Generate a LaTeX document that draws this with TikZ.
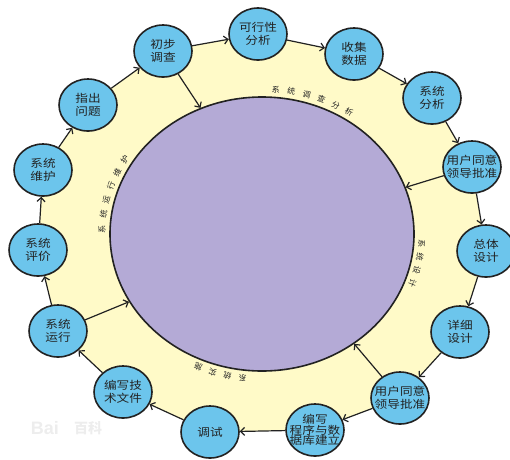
\documentclass[tikz,border=0pt]{standalone}
\usepackage{fontspec}
\newfontfamily\cjk[FakeStretch=1.15]{Noto Sans CJK SC}
\newfontfamily\cjkplain{Noto Sans CJK SC}
\newfontfamily\wmfont{Liberation Sans}
\usetikzlibrary{shapes.geometric,arrows.meta}
\definecolor{ringyellow}{RGB}{255,250,200}
\definecolor{corepurple}{RGB}{180,170,214}
\definecolor{bubblue}{RGB}{108,197,236}
\definecolor{inkdark}{RGB}{34,34,34}
\newcommand\ringtext[4]{%
  \foreach \ch [count=\i] in {#4} {%
    \pgfmathsetmacro\tt{#2+(\i-1)*#3}%
    \pgfmathsetmacro\rr{atan2(-145*cos(\tt),-160*sin(\tt))}%
    \node[arctxt, rotate=\rr] (#1\i) at ([shift={(\tt:160 and 145)}]262,234) {\ch};
  }}
\begin{document}
\begin{tikzpicture}[x=1pt,y=-1pt,
  bub/.style={ellipse, draw=inkdark, line width=1.6pt, fill=bubblue,
    minimum width=58pt, minimum height=52pt, inner sep=0pt},
  lbl/.style={font=\cjk\fontsize{11}{13}\selectfont, align=center, text=inkdark, inner sep=0pt},
  arr/.style={draw=inkdark, line width=1.2pt, -{Straight Barb[length=4pt,width=8pt]}},
  arctxt/.style={font=\cjkplain\fontsize{8}{8}\selectfont, text=inkdark, inner sep=0pt},
  wm/.style={text=black!7, inner sep=0pt}]
\useasboundingbox (0,0) rectangle (510,459);

\coordinate (c1) at (163,51);
\coordinate (c2) at (258,34);
\coordinate (c3) at (354,54);
\coordinate (c4) at (432,98);
\coordinate (c5) at (472,167);
\coordinate (c6) at (486,251);
\coordinate (c7) at (460,332);
\coordinate (c8) at (400,398);
\coordinate (c9) at (315,430);
\coordinate (c10) at (210,432);
\coordinate (c11) at (123,392);
\coordinate (c12) at (58,331);
\coordinate (c13) at (38,250);
\coordinate (c14) at (43,170);
\coordinate (c15) at (88,105);

% ring
\fill[ringyellow] (c1) -- (c2) -- (c3) -- (c4) -- (c5) -- (c6) -- (c7) -- (c8)
  -- (c9) -- (c10) -- (c11) -- (c12) -- (c13) -- (c14) -- (c15) -- cycle;

% core
\node[ellipse, draw=inkdark, line width=1.6pt, fill=corepurple,
  minimum width=304pt, minimum height=274pt, inner sep=0pt] (core) at (262,234) {};

% watermark
\node[wm, font=\wmfont\bfseries\fontsize{18}{18}\selectfont] (wm1) at (45,428) {Bai};
\node[wm, font=\cjkplain\bfseries\fontsize{14}{14}\selectfont] (wm2) at (88,428) {百科};

% bubbles
\node[bub] (n1) at (c1) {};
\node[bub] (n2) at (c2) {};
\node[bub] (n3) at (c3) {};
\node[bub] (n4) at (c4) {};
\node[bub] (n5) at (c5) {};
\node[bub] (n6) at (c6) {};
\node[bub] (n7) at (c7) {};
\node[bub] (n8) at (c8) {};
\node[bub] (n9) at (c9) {};
\node[bub] (n10) at (c10) {};
\node[bub] (n11) at (c11) {};
\node[bub] (n12) at (c12) {};
\node[bub] (n13) at (c13) {};
\node[bub] (n14) at (c14) {};
\node[bub] (n15) at (c15) {};

\node[lbl] (t1) at (n1) {初步\\调查};
\node[lbl] (t2) at (n2) {可行性\\分析};
\node[lbl] (t3) at (n3) {收集\\数据};
\node[lbl] (t4) at (n4) {系统\\分析};
\node[lbl] (t5) at (n5) {用户同意\\领导批准};
\node[lbl] (t6) at (n6) {总体\\设计};
\node[lbl] (t7) at (n7) {详细\\设计};
\node[lbl] (t8) at (n8) {用户同意\\领导批准};
\node[lbl, font=\cjk\fontsize{11}{10.5}\selectfont] (t9) at (n9) {编写\\程序与数\\据库建立};
\node[lbl] (t10) at (n10) {调试};
\node[lbl] (t11) at (n11) {编写技\\术文件};
\node[lbl] (t12) at (n12) {系统\\运行};
\node[lbl] (t13) at (n13) {系统\\评价};
\node[lbl] (t14) at (n14) {系统\\维护};
\node[lbl] (t15) at (n15) {指出\\问题};

% cycle arrows
\foreach \a/\b in {1/2,2/3,3/4,4/5,5/6,6/7,7/8,8/9,9/10,10/11,11/12,12/13,13/14,14/15,15/1}
  \draw[arr] (n\a) -- (n\b);

% radial arrows
\draw[arr] (n1) -- (core.116);
\draw[arr] (n5) -- (core.18);
\draw[arr] (n8) -- (core.-50);
\draw[arr] (n12) -- (core.207);

% phase labels along the core
\ringtext{ta}{-85}{5.6}{系,统,调,查,分,析}
\ringtext{tb}{4}{5.3}{系,统,设,计}
\ringtext{tc}{97}{5.5}{系,统,实,施}
\ringtext{td}{182}{5.8}{系,统,运,行,维,护}
\end{tikzpicture}
\end{document}
